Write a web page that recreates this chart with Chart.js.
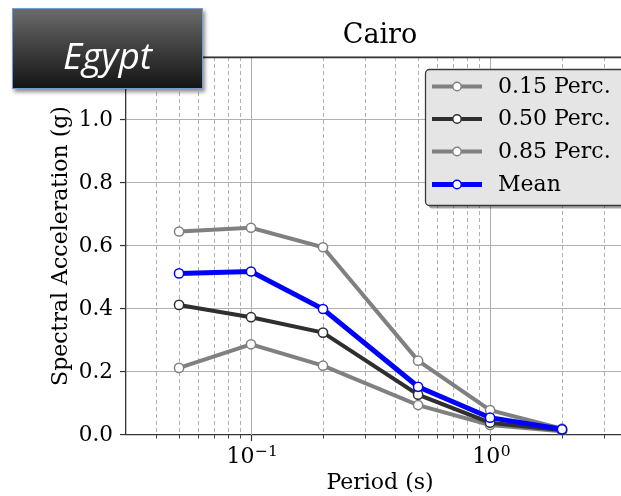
<!DOCTYPE html>
<html>
<head>
<meta charset="utf-8">
<script src="https://cdn.jsdelivr.net/npm/chart.js@4.4.1/dist/chart.umd.min.js"></script>
<style>
  html, body { margin: 0; padding: 0; background: #fff; overflow: hidden; }
  #wrap { position: relative; width: 621px; height: 496px; overflow: hidden; }
  #c { position: absolute; left: 0; top: 0; }
  #badge {
    position: absolute; left: 12px; top: 8px; width: 189px; height: 79px;
    border: 1.5px solid #6d9ed8;
    background: linear-gradient(#6b6b6b, #3a3a3a 55%, #151515);
    box-shadow: 2px 3px 4px rgba(0,0,0,0.45);
  }
  #badge span {
    position: absolute; left: 0; right: 0; top: 20px; line-height: 37px;
    text-align: center; color: #fff; font: italic 37px "Open Sans", sans-serif;
  }
</style>
</head>
<body>
<div id="wrap">
  <canvas id="c" width="660" height="496"></canvas>
  <div id="badge"><span>Egypt</span></div>
</div>
<script>
// Spectral acceleration (g) against period (s), Cairo
const periods = [0.05, 0.1, 0.2, 0.5, 1.0, 2.0];
const perc15  = [0.213, 0.288, 0.220, 0.095, 0.032, 0.012];
const perc50  = [0.413, 0.374, 0.325, 0.128, 0.039, 0.015];
const perc85  = [0.646, 0.658, 0.596, 0.236, 0.079, 0.020];
const meanSA  = [0.513, 0.519, 0.400, 0.153, 0.055, 0.018];

const seriesLabels = ['0.15 Perc.', '0.50 Perc.', '0.85 Perc.', 'Mean'];
const xTickValues = [0.03, 0.04, 0.05, 0.06, 0.07, 0.08, 0.09,
                     0.1, 0.2, 0.3, 0.4, 0.5, 0.6, 0.7, 0.8, 0.9,
                     1, 2, 3, 4];
const xMajor = [0.1, 1];
const xMajorLabels = [['10', '\u22121'], ['10', '0']];

const SERIF = '"DejaVu Serif", serif';
const GRID = '#b0b0b0';
const AXIS = '#333333';

const pts = arr => periods.map((p, i) => ({ x: p, y: arr[i] }));
const isMajor = v => xMajor.some(m => Math.abs(m - v) < 1e-9);

function series(label, values, color, width, order) {
  return {
    label, data: pts(values), borderColor: color, borderWidth: width,
    pointRadius: 4.6, pointHoverRadius: 4.6, pointBorderWidth: 1.5,
    pointBackgroundColor: '#ffffff', pointBorderColor: color,
    tension: 0, fill: false, order
  };
}

// vertical log grid, tick marks, exponent labels and the top spine
const logAxisDecor = {
  id: 'logAxisDecor',
  beforeDatasetsDraw(chart) {
    const { ctx, chartArea: a } = chart;
    const xs = chart.scales.x;
    ctx.save();
    xTickValues.forEach(v => {
      const px = Math.round(xs.getPixelForValue(v)) + 0.5;
      if (px < a.left + 1 || px > a.right) return;
      ctx.beginPath();
      if (isMajor(v)) {
        ctx.setLineDash([]); ctx.lineWidth = 1.1; ctx.strokeStyle = GRID;
      } else {
        ctx.setLineDash([4, 3]); ctx.lineWidth = 0.9; ctx.strokeStyle = '#a8a8a8';
      }
      ctx.moveTo(px, a.top); ctx.lineTo(px, a.bottom);
      ctx.stroke();
      // tick mark below the axis
      ctx.setLineDash([]);
      ctx.beginPath();
      ctx.strokeStyle = AXIS;
      ctx.lineWidth = isMajor(v) ? 1.2 : 0.9;
      ctx.moveTo(px, a.bottom); ctx.lineTo(px, a.bottom + (isMajor(v) ? 6 : 3.5));
      ctx.stroke();
    });
    ctx.restore();
  },
  afterDatasetsDraw(chart) {
    const { ctx, chartArea: a } = chart;
    const xs = chart.scales.x;
    ctx.save();
    // top spine
    ctx.strokeStyle = AXIS; ctx.lineWidth = 1.3;
    ctx.beginPath(); ctx.moveTo(a.left, a.top + 0.5); ctx.lineTo(chart.width, a.top + 0.5); ctx.stroke();
    // 10^n labels
    ctx.fillStyle = '#000';
    ctx.textBaseline = 'alphabetic';
    xMajor.forEach((v, i) => {
      const [base, exp] = xMajorLabels[i];
      ctx.font = '22px ' + SERIF;
      const wb = ctx.measureText(base).width;
      ctx.font = '15.5px ' + SERIF;
      const we = ctx.measureText(exp).width;
      const cx = xs.getPixelForValue(v);
      const x0 = cx - (wb + we) / 2 + 1;
      ctx.font = '22px ' + SERIF;
      ctx.textAlign = 'left';
      ctx.fillText(base, x0, 463);
      ctx.font = '15.5px ' + SERIF;
      ctx.fillText(exp, x0 + wb + 0.5, 456);
    });
    ctx.restore();
  }
};

// framed legend in the upper right of the axes
const boxLegend = {
  id: 'boxLegend',
  afterDraw(chart) {
    const { ctx } = chart;
    const x = 425.5, y = 69.5, w = 230, h = 136, r = 4;
    ctx.save();
    const rr = (ox, oy) => {
      ctx.beginPath();
      ctx.moveTo(ox + r, oy); ctx.lineTo(ox + w - r, oy);
      ctx.arcTo(ox + w, oy, ox + w, oy + r, r); ctx.lineTo(ox + w, oy + h - r);
      ctx.arcTo(ox + w, oy + h, ox + w - r, oy + h, r); ctx.lineTo(ox + r, oy + h);
      ctx.arcTo(ox, oy + h, ox, oy + h - r, r); ctx.lineTo(ox, oy + r);
      ctx.arcTo(ox, oy, ox + r, oy, r); ctx.closePath();
    };
    rr(x + 3, y + 3); ctx.fillStyle = 'rgba(0,0,0,0.35)'; ctx.fill();
    rr(x, y); ctx.fillStyle = '#e5e5e5'; ctx.fill();
    ctx.lineWidth = 1.3; ctx.strokeStyle = '#3a3a3a'; ctx.stroke();

    const rows = [86.5, 119, 151.5, 184.5];
    chart.data.datasets.forEach((ds, i) => {
      const ry = rows[i];
      ctx.strokeStyle = ds.borderColor;
      ctx.lineWidth = ds.borderWidth;
      ctx.beginPath(); ctx.moveTo(432, ry); ctx.lineTo(482, ry); ctx.stroke();
      ctx.beginPath(); ctx.arc(457, ry, 4.2, 0, Math.PI * 2);
      ctx.fillStyle = '#fff'; ctx.fill();
      ctx.lineWidth = 1.4; ctx.strokeStyle = ds.borderColor; ctx.stroke();
      ctx.fillStyle = '#000';
      ctx.font = '22px ' + SERIF;
      ctx.textAlign = 'left'; ctx.textBaseline = 'middle';
      ctx.fillText(ds.label, 498, ry + 0.5);
    });
    ctx.restore();
  }
};

new Chart(document.getElementById('c'), {
  type: 'line',
  data: {
    datasets: [
      series(seriesLabels[0], perc15, '#808080', 4, 4),
      series(seriesLabels[1], perc50, '#2f2f2f', 4, 3),
      series(seriesLabels[2], perc85, '#808080', 4, 2),
      series(seriesLabels[3], meanSA, '#0000ff', 5, 1)
    ]
  },
  options: {
    responsive: false,
    animation: false,
    layout: { padding: { left: 0, right: 26, top: 0, bottom: 0 } },
    plugins: {
      legend: { display: false },
      tooltip: { enabled: false },
      title: {
        display: true, text: 'Cairo', fullSize: false, color: '#000',
        font: { family: SERIF, size: 27, weight: 'normal', lineHeight: 1.2 },
        padding: { top: 20, bottom: 4.6 }
      }
    },
    scales: {
      x: {
        type: 'logarithmic', min: 0.03, max: 4,
        afterBuildTicks: s => { s.ticks = xTickValues.map(v => ({ value: v })); },
        afterFit: s => { s.height = 61; },
        grid: { display: false },
        border: { display: true, color: AXIS, width: 1.3 },
        ticks: { display: false },
        title: {
          display: true, text: 'Period (s)', color: '#000',
          font: { family: SERIF, size: 22, lineHeight: 1.2 },
          padding: { top: 0, bottom: 0 }
        }
      },
      y: {
        min: 0, max: 1.2,
        afterFit: s => { s.width = 126; },
        grid: { color: GRID, lineWidth: 1.1, tickLength: 6, tickColor: AXIS, tickWidth: 1.2 },
        border: { display: true, color: AXIS, width: 1.3 },
        ticks: {
          stepSize: 0.2, padding: 7, color: '#000',
          font: { family: SERIF, size: 21.5 },
          callback: v => (v <= 1.0001 ? v.toFixed(1) : '')
        },
        title: {
          display: true, text: 'Spectral Acceleration (g)', color: '#000',
          font: { family: SERIF, size: 22, lineHeight: 1.2 },
          padding: { top: 48, bottom: 0 }
        }
      }
    }
  },
  plugins: [logAxisDecor, boxLegend]
});
</script>
</body>
</html>
